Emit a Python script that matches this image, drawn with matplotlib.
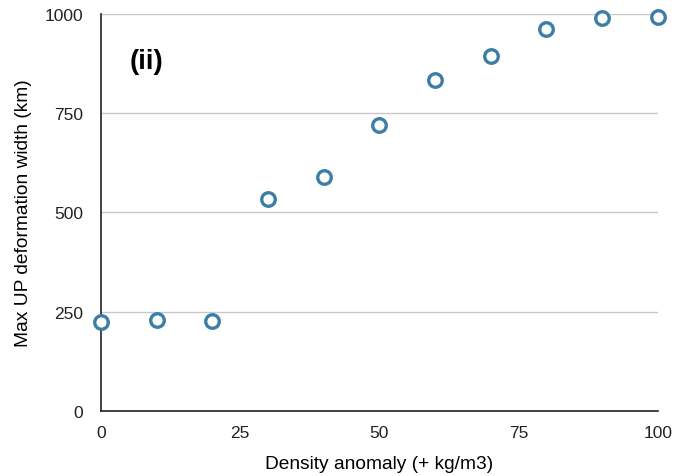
import matplotlib
matplotlib.use("Agg")
import matplotlib.pyplot as plt

# Data
density = [0, 10, 20, 30, 40, 50, 60, 70, 80, 90, 100]
width_km = [224, 229, 227, 534, 589, 720, 833, 893, 962, 990, 993]

yticks = [0, 250, 500, 750, 1000]
xticks = [0, 25, 50, 75, 100]

plt.rcParams['font.family'] = ['Liberation Sans', 'DejaVu Sans']

fig = plt.figure(figsize=(6.88, 4.77), dpi=100)
ax = fig.add_axes([0.147, 0.1363, 0.809, 0.8323])

ax.scatter(density, width_km, s=95, facecolors='white', edgecolors='#3b7ea6',
           linewidths=2.4, zorder=3, clip_on=False)

ax.set_xlim(0, 100)
ax.set_ylim(0, 1000)
ax.set_xticks(xticks)
ax.set_yticks(yticks)
ax.tick_params(length=0, labelsize=12.5, colors='#222222')
ax.tick_params(axis='y', pad=13)
ax.tick_params(axis='x', pad=10)
ax.yaxis.grid(True, color='#c8c8c8', linewidth=1)
ax.set_axisbelow(True)

for s in ['top', 'right']:
    ax.spines[s].set_visible(False)
for s in ['left', 'bottom']:
    ax.spines[s].set_color('#222222')
    ax.spines[s].set_linewidth(1.2)

ax.set_xlabel('Density anomaly (+ kg/m3)', fontsize=13.8, labelpad=11)
ax.set_ylabel('Max UP deformation width (km)', fontsize=13.8, labelpad=9)

ax.text(0.052, 0.865, '(ii)', transform=ax.transAxes, fontsize=20, fontweight='bold')

fig.savefig('out.png', dpi=100)
